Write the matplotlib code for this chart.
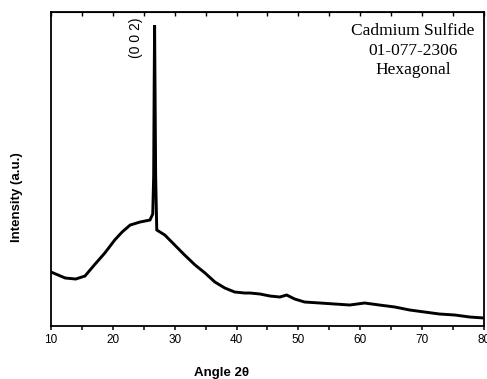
import matplotlib.pyplot as plt
from matplotlib.ticker import MultipleLocator

# XRD pattern of CdS film (arbitrary units)
angle = [10.0, 12.3, 14.0, 15.5, 17.0, 18.7, 20.3, 21.5, 22.8, 24.4, 26.0,
         26.45, 26.6, 26.68, 26.75, 26.82, 26.92, 27.1, 28.4, 30.0, 31.6,
         33.3, 34.9, 36.5, 38.1, 39.7, 41.3, 42.2, 43.8, 45.4, 47.0,
         48.1, 49.4, 51.0, 53.5, 55.9, 58.3, 60.7, 63.1, 65.6, 68.0, 70.4,
         72.8, 75.3, 77.7, 80.0]
intensity = [54, 48, 47, 50, 61, 73, 86, 94, 101, 104, 106,
             112, 150, 240, 301, 240, 150, 96, 91, 81, 71,
             61, 53, 44, 38, 34, 33, 33, 32, 30, 29,
             31, 27, 24, 23, 22, 21, 23, 21, 19, 16, 14,
             12, 11, 9, 8]

fig = plt.figure(figsize=(4.87, 3.79), dpi=100)
ax = fig.add_axes([0.1047, 0.1398, 0.8891, 0.8285])

ax.plot(angle, intensity, color='black', lw=2.1, solid_joinstyle='miter')

ax.set_xlim(10, 80)
ax.set_ylim(0, 314)
ax.xaxis.set_major_locator(MultipleLocator(10))
ax.xaxis.set_minor_locator(MultipleLocator(5))
ax.set_yticks([])
ax.tick_params(axis='x', which='both', direction='out', length=3, width=1.1,
               labelsize=8.5, pad=3)
for lab in ax.get_xticklabels():
    lab.set_family('Liberation Sans')
for s in ax.spines.values():
    s.set_linewidth(1.3)

# inward ticks along the top edge, no labels
top = ax.secondary_xaxis('top')
top.xaxis.set_major_locator(MultipleLocator(5))
top.tick_params(direction='in', length=3, width=1.0, labeltop=False)

ax.set_xlabel('Angle 2θ', fontsize=9.5, fontweight='bold', family='Liberation Sans')
ax.xaxis.set_label_coords(0.395, -0.13)
ax.set_ylabel('Intensity (a.u.)', fontsize=9.5, fontweight='bold', family='Liberation Sans')
ax.yaxis.set_label_coords(-0.064, 0.41)

ax.text(24.8, 309, '(0 0 2)', rotation=90, ha='right', va='top',
        fontsize=10, family='Liberation Sans')
ax.text(0.836, 0.965, 'Cadmium Sulfide\n01-077-2306\nHexagonal', transform=ax.transAxes,
        ha='center', va='top', fontsize=12.5, family='Liberation Serif', linespacing=1.3)

fig.savefig('out.png', dpi=100)
